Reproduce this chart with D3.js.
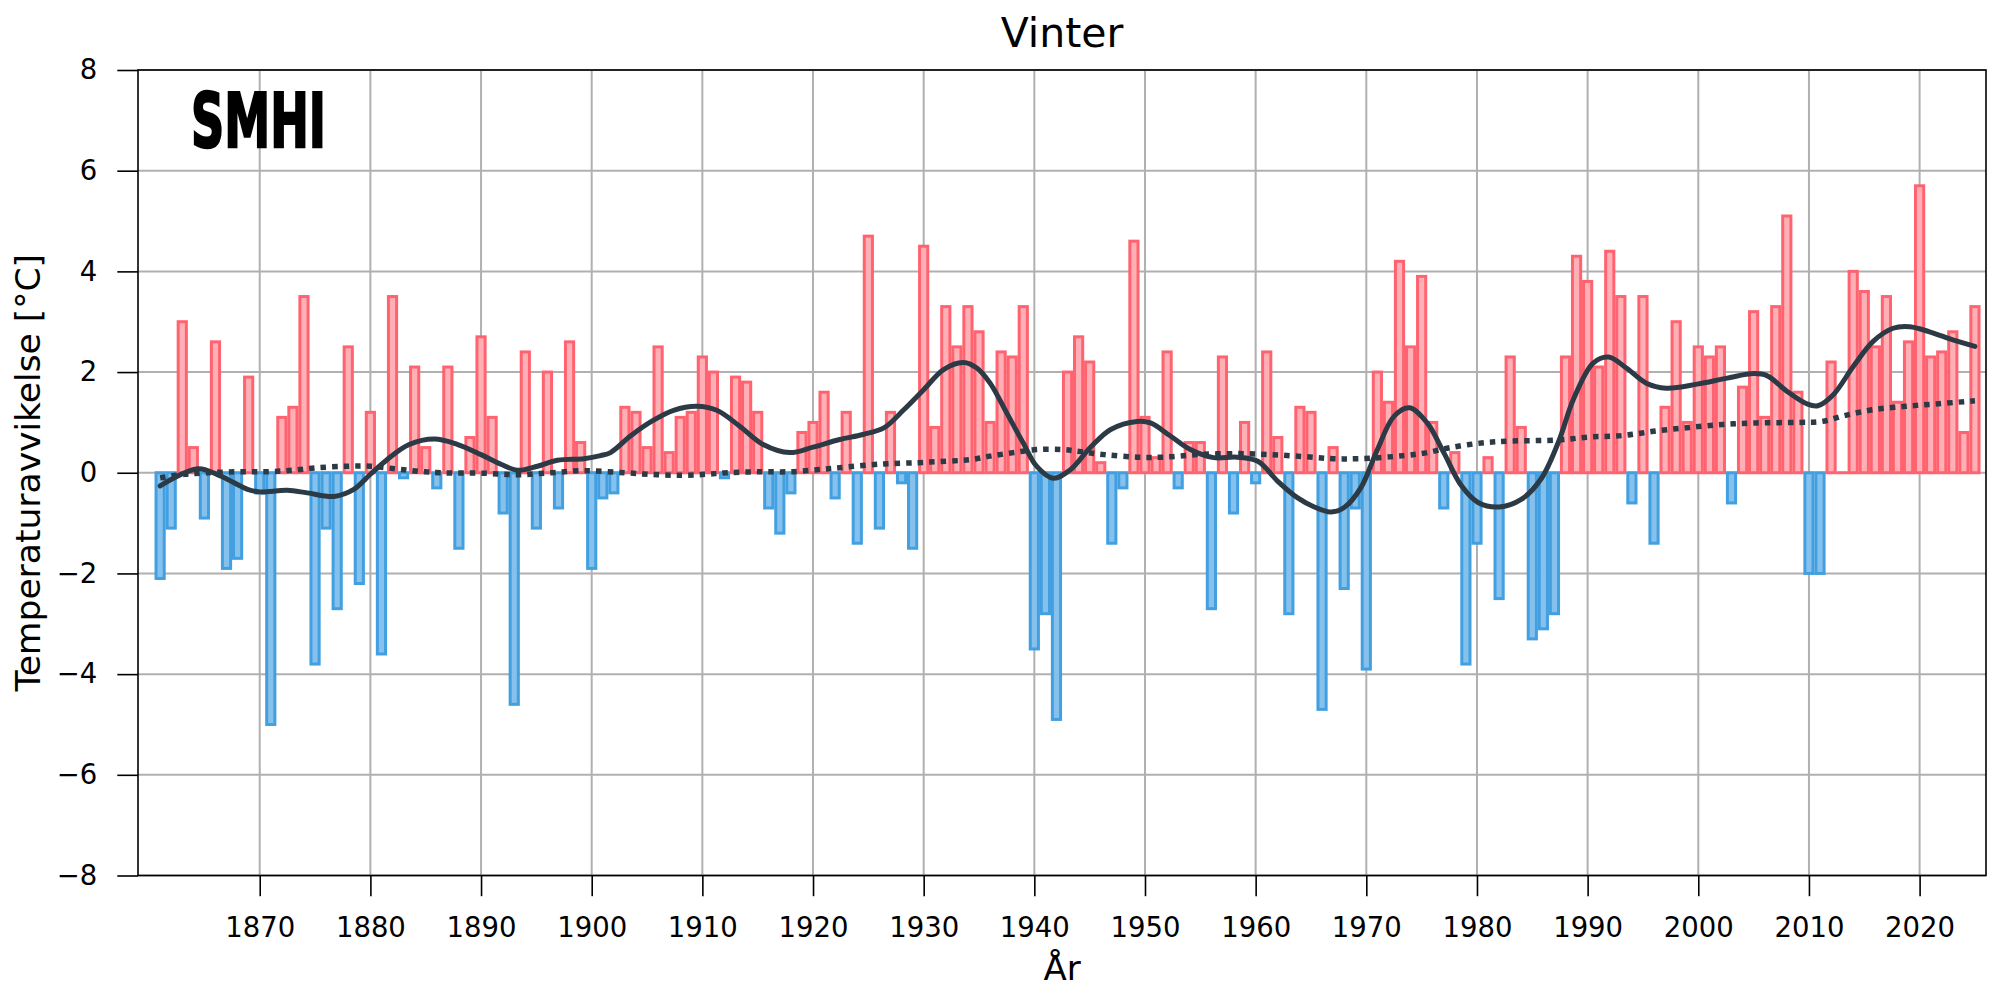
<!DOCTYPE html>
<html><head><meta charset="utf-8">
<script src="https://cdn.jsdelivr.net/npm/d3@7"></script>
<style>
body{margin:0;background:#fff}
svg{display:block}
text{font-family:"DejaVu Sans",sans-serif;fill:#000}
</style>
</head><body>
<svg id="chart" width="2000" height="1000"></svg>
<script>
// ---- data ----
const firstYear = 1861;
const anomalies = [
 -2.1,-1.1,3.0,0.5,-0.9,2.6,-1.9,-1.7,1.9,            // 1861-1869
 -0.4,-5.0,1.1,1.3,3.5,-3.8,-1.1,-2.7,2.5,-2.2,       // 1870-1879
 1.2,-3.6,3.5,-0.1,2.1,0.5,-0.3,2.1,-1.5,0.7,         // 1880-1889
 2.7,1.1,-0.8,-4.6,2.4,-1.1,2.0,-0.7,2.6,0.6,         // 1890-1899
 -1.9,-0.5,-0.4,1.3,1.2,0.5,2.5,0.4,1.1,1.2,          // 1900-1909
 2.3,2.0,-0.1,1.9,1.8,1.2,-0.7,-1.2,-0.4,0.8,         // 1910-1919
 1.0,1.6,-0.5,1.2,-1.4,4.7,-1.1,1.2,-0.2,-1.5,        // 1920-1929
 4.5,0.9,3.3,2.5,3.3,2.8,1.0,2.4,2.3,3.3,             // 1930-1939
 -3.5,-2.8,-4.9,2.0,2.7,2.2,0.2,-1.4,-0.3,4.6,        // 1940-1949
 1.1,0.3,2.4,-0.3,0.6,0.6,-2.7,2.3,-0.8,1.0,          // 1950-1959
 -0.2,2.4,0.7,-2.8,1.3,1.2,-4.7,0.5,-2.3,-0.7,        // 1960-1969
 -3.9,2.0,1.4,4.2,2.5,3.9,1.0,-0.7,0.4,-3.8,          // 1970-1979
 -1.4,0.3,-2.5,2.3,0.9,-3.3,-3.1,-2.8,2.3,4.3,        // 1980-1989
 3.8,2.1,4.4,3.5,-0.6,3.5,-1.4,1.3,3.0,1.0,           // 1990-1999
 2.5,2.3,2.5,-0.6,1.7,3.2,1.1,3.3,5.1,1.6,            // 2000-2009
 -2.0,-2.0,2.2,0.0,4.0,3.6,2.5,3.5,1.4,2.6,           // 2010-2019
 5.7,2.3,2.4,2.8,0.8,3.3                              // 2020-2025
];
const years = anomalies.map((_, i) => firstYear + i);

const smoothYears = [1861.0,1864.4,1866.5,1868.9,1870.0,1872.5,1874.3,1876.7,1878.5,1880.0,1881.5,1883.5,1885.8,1887.9,1890.0,1891.8,1893.3,1895.1,1896.9,1899.3,1900.8,1901.7,1903.5,1905.4,1907.4,1909.5,1911.3,1913.4,1915.5,1917.9,1920.0,1922.4,1924.5,1926.4,1928.2,1930.0,1931.8,1933.6,1934.8,1936.0,1937.5,1939.0,1940.2,1941.7,1943.2,1945.1,1946.9,1949.3,1950.5,1952.3,1954.1,1956.2,1958.3,1960.2,1962.0,1963.8,1965.3,1966.8,1968.0,1969.5,1971.0,1972.5,1973.9,1975.5,1977.0,1978.6,1980.1,1982.0,1984.0,1985.8,1987.4,1988.7,1990.5,1991.9,1993.5,1995.3,1997.1,1999.9,2002.6,2005.0,2006.2,2008.0,2009.8,2010.8,2012.2,2014.0,2015.8,2017.6,2019.1,2020.9,2023.0,2025.0];
const smoothValues = [-0.26,0.08,-0.07,-0.33,-0.38,-0.35,-0.40,-0.47,-0.33,-0.03,0.26,0.56,0.67,0.56,0.36,0.17,0.05,0.13,0.25,0.28,0.34,0.40,0.73,1.02,1.24,1.32,1.24,0.92,0.56,0.40,0.51,0.66,0.76,0.89,1.25,1.65,2.05,2.19,2.08,1.78,1.19,0.59,0.13,-0.11,0.05,0.51,0.86,1.02,0.99,0.73,0.46,0.30,0.31,0.23,-0.17,-0.50,-0.68,-0.78,-0.69,-0.30,0.46,1.12,1.29,0.99,0.40,-0.26,-0.59,-0.68,-0.53,-0.12,0.63,1.45,2.18,2.30,2.08,1.78,1.68,1.76,1.88,1.97,1.93,1.62,1.37,1.33,1.55,2.11,2.61,2.87,2.90,2.80,2.64,2.51];

const trendYears = [1861.0,1863.2,1865.3,1868.0,1870.5,1873.0,1875.2,1878.0,1880.0,1882.2,1884.3,1886.4,1890.3,1893.3,1896.3,1899.3,1903.0,1905.9,1908.3,1910.4,1912.2,1914.9,1917.9,1920.9,1922.4,1926.0,1929.4,1932.1,1934.2,1936.0,1938.1,1940.2,1942.6,1944.2,1946.3,1949.3,1951.7,1954.7,1958.3,1961.3,1964.4,1967.0,1969.5,1973.4,1975.5,1977.6,1980.4,1983.1,1987.3,1990.2,1993.2,1996.2,1999.2,2002.2,2005.2,2009.1,2011.2,2013.3,2015.7,2018.7,2021.7,2025.0];
const trendValues = [-0.10,-0.03,0.00,0.02,0.02,0.05,0.10,0.13,0.13,0.08,0.03,0.00,-0.01,-0.04,0.00,0.04,0.00,-0.04,-0.05,-0.03,0.00,0.02,0.02,0.07,0.10,0.17,0.20,0.23,0.26,0.33,0.40,0.46,0.46,0.42,0.36,0.31,0.31,0.36,0.38,0.36,0.32,0.28,0.28,0.34,0.40,0.50,0.59,0.63,0.65,0.71,0.74,0.83,0.90,0.96,0.99,1.00,1.02,1.14,1.25,1.32,1.37,1.43];

const xTickValues = [1870,1880,1890,1900,1910,1920,1930,1940,1950,1960,1970,1980,1990,2000,2010,2020];
const yTickValues = [-8,-6,-4,-2,0,2,4,6,8];
const titleText = "Vinter";
const xLabelText = "År";
const yLabelText = "Temperaturavvikelse [°C]";

// ---- layout ----
const L = 138, R = 1986, T = 70, B = 875.5;
const svg = d3.select("#chart");
const x = d3.scaleLinear().domain([1859, 2026]).range([L, R]);
const y = d3.scaleLinear().domain([-8, 8]).range([B, T]);
const step = x(1) - x(0);

// grid
const grid = svg.append("g");
grid.selectAll("line.v").data(xTickValues).join("line")
  .attr("x1", d => x(d)).attr("x2", d => x(d)).attr("y1", T).attr("y2", B)
  .attr("stroke", "#b0b0b0").attr("stroke-width", 2);
grid.selectAll("line.h").data(yTickValues).join("line")
  .attr("y1", d => y(d)).attr("y2", d => y(d)).attr("x1", L).attr("x2", R)
  .attr("stroke", "#b0b0b0").attr("stroke-width", 2);

// bars
const bw = step * 0.74;
svg.append("g").selectAll("rect").data(years).join("rect")
  .attr("x", (d) => x(d) - bw / 2)
  .attr("width", bw)
  .attr("y", (d, i) => Math.min(y(anomalies[i]), y(0)))
  .attr("height", (d, i) => Math.max(Math.abs(y(anomalies[i]) - y(0)), 0.01))
  .attr("fill", (d, i) => anomalies[i] >= 0 ? "#ffb0b7" : "#85c1ec")
  .attr("stroke", (d, i) => anomalies[i] >= 0 ? "#ff6370" : "#42a0e1")
  .attr("stroke-width", 3);

// trend (dotted)
const trendPts = trendYears.map((t, i) => [t, trendValues[i]]);
svg.append("path").datum(trendPts)
  .attr("d", d3.line().x(d => x(d[0])).y(d => y(d[1])).curve(d3.curveCatmullRom))
  .attr("fill", "none").attr("stroke", "#2c3a46").attr("stroke-width", 5.5)
  .attr("stroke-dasharray", "5.5,6");

// smooth curve
const smoothPts = smoothYears.map((t, i) => [t, smoothValues[i]]);
svg.append("path").datum(smoothPts)
  .attr("d", d3.line().x(d => x(d[0])).y(d => y(d[1])).curve(d3.curveCatmullRom))
  .attr("fill", "none").attr("stroke", "#2c3a46").attr("stroke-width", 5)
  .attr("stroke-linecap", "round").attr("stroke-linejoin", "round");

// spines
svg.append("rect").attr("x", L).attr("y", T).attr("width", R - L).attr("height", B - T)
  .attr("fill", "none").attr("stroke", "#000").attr("stroke-width", 1.6);

// axes
const fmt = d3.format("d");
const xAxis = svg.append("g").attr("transform", `translate(0,${B})`)
  .call(d3.axisBottom(x).tickValues(xTickValues).tickFormat(fmt).tickSize(20.7).tickPadding(21).tickSizeOuter(0));
const yAxis = svg.append("g").attr("transform", `translate(${L},0)`)
  .call(d3.axisLeft(y).tickValues(yTickValues).tickFormat(fmt).tickSize(20.7).tickPadding(20).tickSizeOuter(0));
[xAxis, yAxis].forEach(a => {
  a.select(".domain").remove();
  a.selectAll(".tick line").attr("stroke", "#000").attr("stroke-width", 1.6);
  a.selectAll(".tick text").attr("font-size", 27.5).attr("font-family", "DejaVu Sans").attr("fill", "#000");
});

// texts
svg.append("text").attr("x", (L + R) / 2).attr("y", 47).attr("text-anchor", "middle")
  .attr("font-size", 41).text(titleText);
svg.append("text").attr("x", (L + R) / 2).attr("y", 980).attr("text-anchor", "middle")
  .attr("font-size", 34).text(xLabelText);
svg.append("text").attr("transform", `translate(40,${(T + B) / 2}) rotate(-90)`)
  .attr("text-anchor", "middle").attr("font-size", 34.5).text(yLabelText);

// logo
svg.append("text").attr("x", 191).attr("y", 147)
  .attr("font-size", 75).attr("font-weight", "bold")
  .attr("textLength", 135).attr("lengthAdjust", "spacingAndGlyphs")
  .attr("stroke", "#000").attr("stroke-width", 2.5)
  .text("SMHI");
</script>
</body></html>
